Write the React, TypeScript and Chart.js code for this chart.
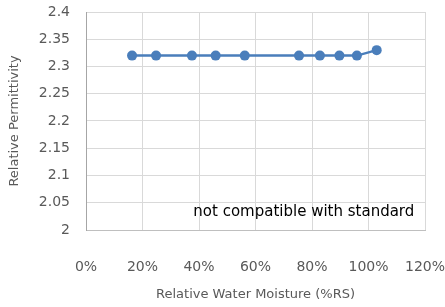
import React, { useEffect, useRef } from "react";
import { Chart, registerables } from "chart.js";

Chart.register(...registerables);

const moisture = [16.3, 24.8, 37.5, 45.9, 56.2, 75.4, 82.8, 89.7, 95.9, 102.9];
const permittivity = [2.32, 2.32, 2.32, 2.32, 2.32, 2.32, 2.32, 2.32, 2.32, 2.33];
const xTicks = [0, 20, 40, 60, 80, 100, 120];
const yTicks = [2, 2.05, 2.1, 2.15, 2.2, 2.25, 2.3, 2.35, 2.4];
const noteText = "not compatible with standard";
const notePos = { x: 77.1, y: 2.032 };

const notePlugin = {
  id: "note",
  afterDatasetsDraw(chart: any) {
    const { ctx, scales } = chart;
    const px = scales.x.getPixelForValue(notePos.x);
    const py = scales.y.getPixelForValue(notePos.y);
    ctx.save();
    ctx.font = "15px 'DejaVu Sans'";
    ctx.fillStyle = "#000000";
    ctx.textAlign = "center";
    ctx.textBaseline = "middle";
    ctx.fillText(noteText, px, py);
    ctx.restore();
  },
};

export default function App() {
  const ref = useRef<HTMLCanvasElement | null>(null);
  useEffect(() => {
    if (!ref.current) return;
    const chart = new Chart(ref.current, {
      type: "scatter",
      data: {
        datasets: [
          {
            data: moisture.map((x, i) => ({ x, y: permittivity[i] })),
            showLine: true,
            borderColor: "#4a7ebb",
            backgroundColor: "#4a7ebb",
            borderWidth: 2.5,
            pointBorderWidth: 0,
            pointRadius: 5,
            pointHoverRadius: 5,
          },
        ],
      },
      options: {
        animation: false,
        responsive: true,
        maintainAspectRatio: false,
        layout: { padding: { top: 12, right: 20, left: 0, bottom: 0 } },
        plugins: { legend: { display: false }, tooltip: { enabled: false } },
        scales: {
          x: {
            type: "linear",
            min: 0,
            max: 120,
            afterBuildTicks: (s: any) => {
              s.ticks = xTicks.map((v) => ({ value: v }));
            },
            afterFit: (s: any) => {
              s.height = 77;
              s.paddingLeft = 0;
              s.paddingRight = 0;
            },
            ticks: {
              padding: 29,
              color: "#595959",
              font: { family: "'DejaVu Sans'", size: 14 },
              maxRotation: 0,
              callback: (v: any) => `${v}%`,
            },
            grid: { color: "#d9d9d9", drawTicks: false, lineWidth: 1 },
            border: { color: "#bfbfbf", width: 1 },
            title: {
              display: true,
              text: "Relative Water Moisture (%RS)",
              color: "#595959",
              font: { family: "'DejaVu Sans'", size: 13 },
              padding: { top: 0, bottom: 5 },
            },
          },
          y: {
            type: "linear",
            min: 2,
            max: 2.4,
            afterBuildTicks: (s: any) => {
              s.ticks = yTicks.map((v) => ({ value: v }));
            },
            afterFit: (s: any) => {
              s.width = 86;
              s.paddingTop = 0;
              s.paddingBottom = 0;
            },
            ticks: {
              padding: 16,
              color: "#595959",
              font: { family: "'DejaVu Sans'", size: 14 },
              callback: (v: any) => `${Math.round(v * 100) / 100}`,
            },
            grid: { color: "#d9d9d9", drawTicks: false, lineWidth: 1 },
            border: { color: "#a6a6a6", width: 1 },
            title: {
              display: true,
              text: "Relative Permittivity",
              color: "#595959",
              font: { family: "'DejaVu Sans'", size: 13 },
              padding: { top: 7, bottom: 0 },
            },
          },
        },
      },
      plugins: [notePlugin],
    });
    return () => chart.destroy();
  }, []);
  return (
    <div style={{ position: "fixed", left: 0, top: 0, width: 445, height: 307, background: "#ffffff" }}>
      <canvas ref={ref} />
    </div>
  );
}
